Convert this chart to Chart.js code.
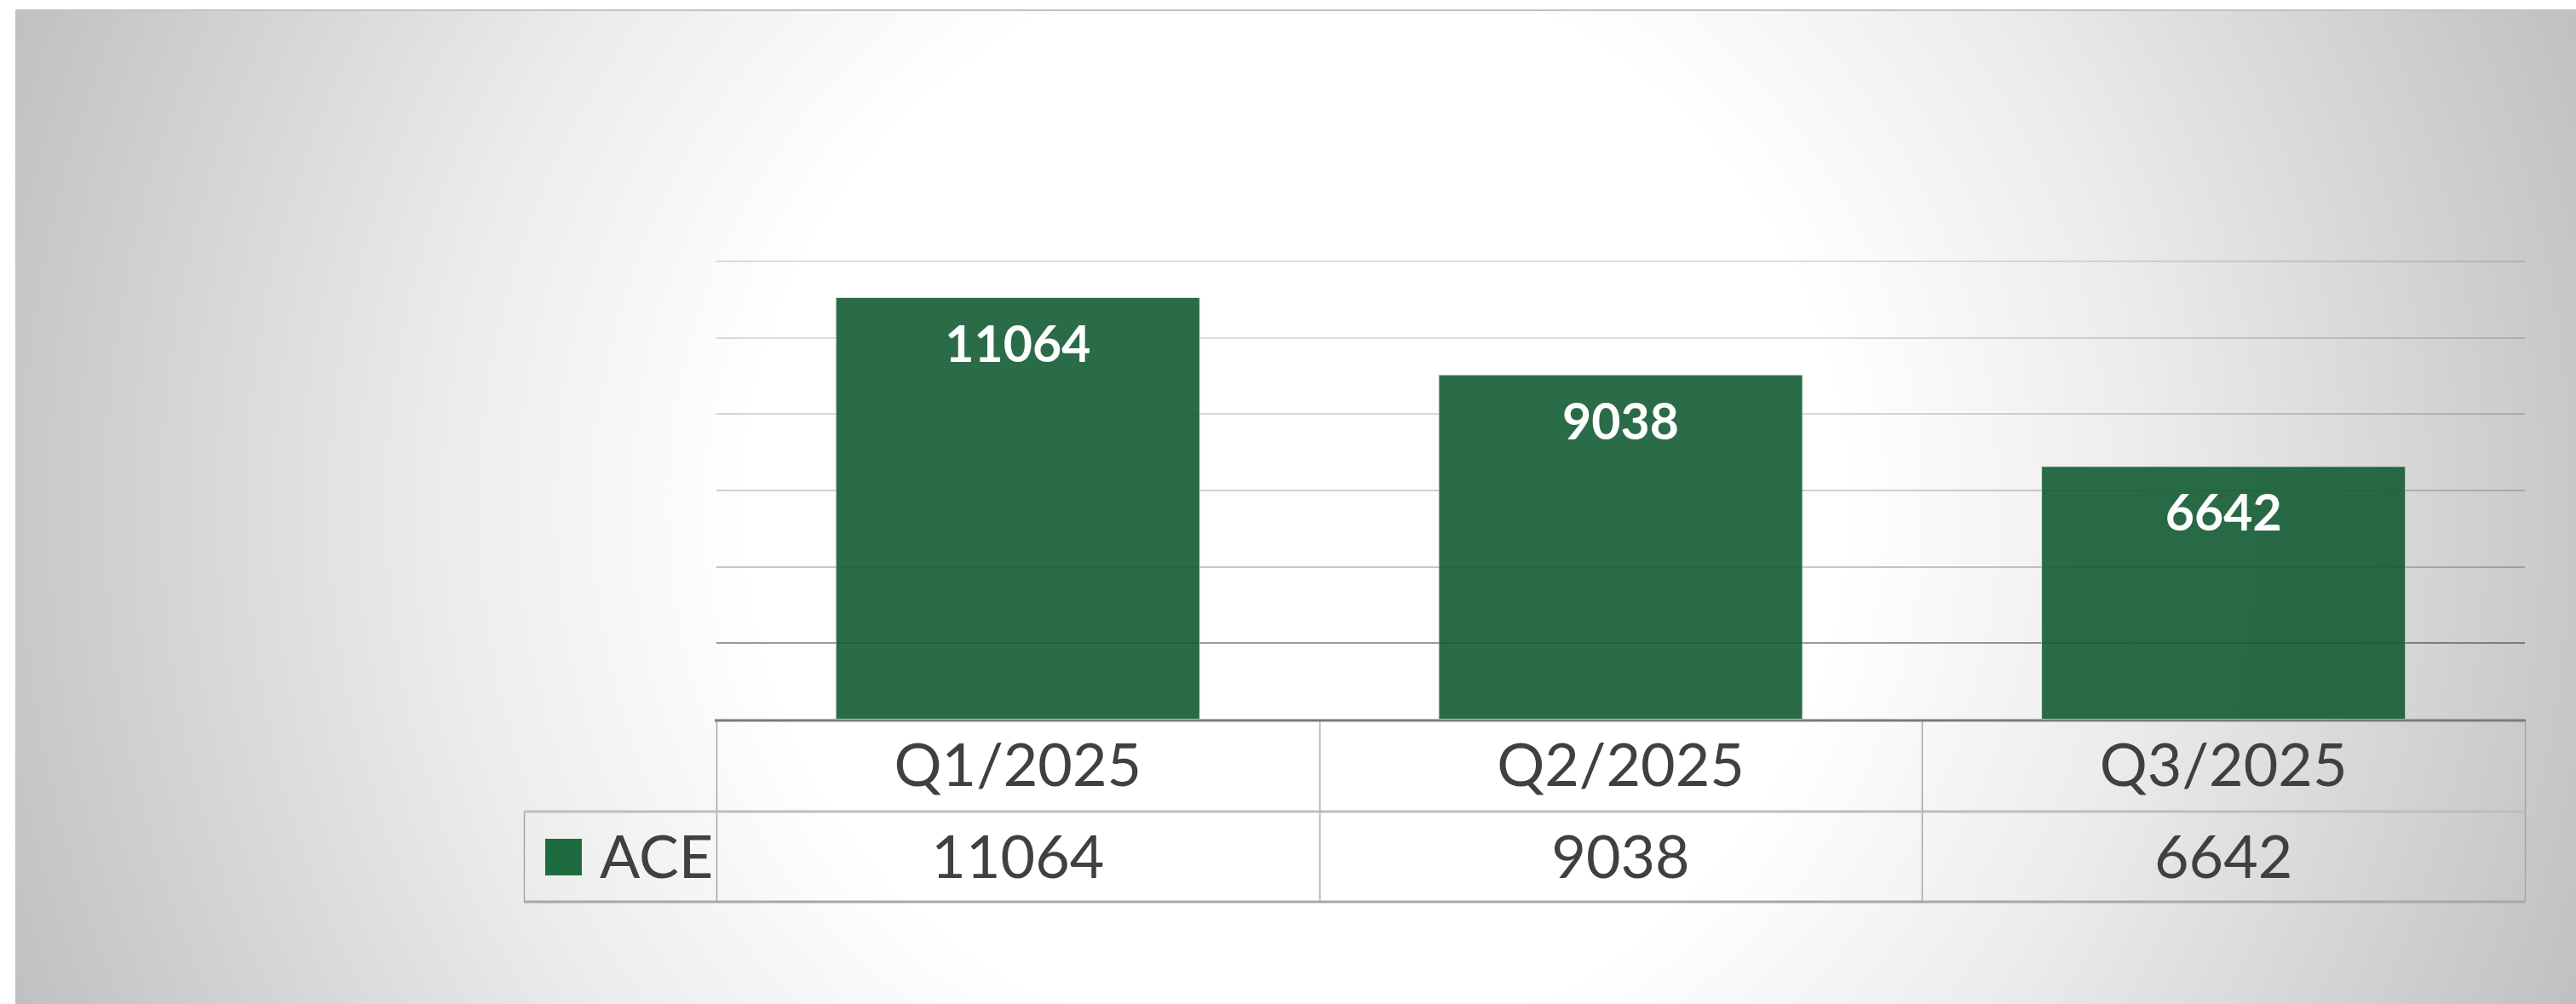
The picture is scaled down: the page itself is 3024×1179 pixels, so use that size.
<!DOCTYPE html>
<html>
<head>
<meta charset="utf-8">
<script src="https://cdn.jsdelivr.net/npm/chart.js@4.4.1/dist/chart.umd.min.js"></script>
<style>
  html, body { margin: 0; padding: 0; background: #ffffff; }
  canvas { display: block; }
</style>
</head>
<body>
<canvas id="c" width="3024" height="1179" style="width:3024px;height:1179px"></canvas>
<script>
// ---- data ----
const categories = ['Q1/2025', 'Q2/2025', 'Q3/2025'];
const seriesName = 'ACE';
const aceValues = [11064, 9038, 6642];
const yMin = 0;
const yMax = 12000;
const yStep = 2000;

const barColor = 'rgba(20,92,52,0.9)';
const barEdge = 'rgba(215,215,215,0.9)';
const legendColor = '#1f6b40';
const textColor = '#404040';

// gridline shade per tick value (lower lines are darker in the original)
function gridShade(v) {
  if (v <= 0) return 'rgba(0,0,0,0)';
  if (v <= 2000) return 'rgba(0,0,0,0.40)';
  if (v <= 4000) return 'rgba(0,0,0,0.22)';
  if (v <= 6000) return 'rgba(0,0,0,0.19)';
  if (v <= 8000) return 'rgba(0,0,0,0.16)';
  if (v <= 10000) return 'rgba(0,0,0,0.14)';
  return 'rgba(0,0,0,0.12)';
}

const bgPlugin = {
  id: 'bg',
  beforeDraw(chart) {
    const ctx = chart.ctx;
    const W = chart.width, H = chart.height;
    ctx.save();
    ctx.fillStyle = '#ffffff';
    ctx.fillRect(0, 0, W, H);
    const x0 = 18, y0 = 11;
    const cx = (x0 + W) / 2, cy = (y0 + H) / 2;
    const r = Math.hypot(W - cx, H - cy);
    const g = ctx.createRadialGradient(cx, cy, 0, cx, cy, r);
    g.addColorStop(0, '#ffffff');
    g.addColorStop(0.40, '#ffffff');
    g.addColorStop(0.62, '#ececec');
    g.addColorStop(1, '#c0c0c0');
    ctx.fillStyle = g;
    ctx.fillRect(x0, y0, W - x0, H - y0);
    ctx.fillStyle = '#c2c2c2';
    ctx.fillRect(x0, y0, W - x0, 2);
    ctx.restore();
  }
};

const labelPlugin = {
  id: 'barLabels',
  afterDatasetsDraw(chart) {
    const ctx = chart.ctx;
    const meta = chart.getDatasetMeta(0);
    ctx.save();
    ctx.fillStyle = '#ffffff';
    ctx.font = 'bold 59px Lato';
    ctx.textAlign = 'center';
    ctx.textBaseline = 'alphabetic';
    meta.data.forEach((bar, i) => {
      ctx.fillText(String(aceValues[i]), bar.x, bar.y + 76);
    });
    ctx.restore();
  }
};

const tablePlugin = {
  id: 'dataTable',
  afterDraw(chart) {
    const ctx = chart.ctx;
    const xs = chart.scales.x;
    const ys = chart.scales.y;
    const area = chart.chartArea;
    const n = categories.length;
    const catW = (area.right - area.left) / n;
    const base = ys.getPixelForValue(0);
    const row1 = base + 108;
    const row2 = row1 + 106;
    const legLeft = 615;
    ctx.save();
    // vertical lines
    ctx.strokeStyle = '#a6a6a6';
    ctx.lineWidth = 1.5;
    for (let i = 0; i <= n; i++) {
      const x = Math.round(area.left + i * catW) + 0.5;
      ctx.beginPath();
      ctx.moveTo(x, base);
      ctx.lineTo(x, row2);
      ctx.stroke();
    }
    ctx.beginPath();
    ctx.moveTo(legLeft + 0.5, row1);
    ctx.lineTo(legLeft + 0.5, row2);
    ctx.stroke();
    // row separator
    ctx.strokeStyle = '#bdbdbd';
    ctx.lineWidth = 3;
    ctx.beginPath();
    ctx.moveTo(legLeft, row1);
    ctx.lineTo(area.right, row1);
    ctx.stroke();
    // bottom
    ctx.strokeStyle = '#a8a8a8';
    ctx.lineWidth = 3;
    ctx.beginPath();
    ctx.moveTo(legLeft, row2);
    ctx.lineTo(area.right + 1, row2);
    ctx.stroke();
    // baseline (category axis)
    ctx.strokeStyle = '#7a7a7a';
    ctx.lineWidth = 3;
    ctx.beginPath();
    ctx.moveTo(area.left - 2, base + 1);
    ctx.lineTo(area.right + 1, base + 1);
    ctx.stroke();
    // texts
    ctx.fillStyle = textColor;
    ctx.font = '70px Lato';
    ctx.textAlign = 'center';
    ctx.textBaseline = 'alphabetic';
    categories.forEach((c, i) => {
      const cxp = xs.getPixelForValue(i);
      ctx.fillText(c, cxp, base + 78);
      ctx.fillText(String(aceValues[i]), cxp, row1 + 78);
    });
    // legend key
    ctx.fillStyle = legendColor;
    ctx.fillRect(640, row1 + 32, 43, 43);
    ctx.fillStyle = textColor;
    ctx.textAlign = 'left';
    ctx.fillText(seriesName, 704, row1 + 78);
    ctx.restore();
  }
};

new Chart(document.getElementById('c'), {
  type: 'bar',
  data: {
    labels: categories,
    datasets: [{
      label: seriesName,
      data: aceValues,
      backgroundColor: barColor,
      borderColor: barEdge,
      borderWidth: 1,
      barPercentage: 0.605,
      categoryPercentage: 1.0
    }]
  },
  options: {
    responsive: false,
    maintainAspectRatio: false,
    devicePixelRatio: 1,
    animation: false,
    layout: { padding: { left: 841, right: 60, top: 307, bottom: 334 } },
    plugins: {
      legend: { display: false },
      tooltip: { enabled: false },
      title: { display: false }
    },
    scales: {
      x: {
        type: 'category',
        offset: true,
        grid: { display: false, drawTicks: false },
        border: { display: false },
        ticks: { display: false },
        afterFit(axis) { axis.height = 0; }
      },
      y: {
        min: yMin,
        max: yMax,
        ticks: { display: false, stepSize: yStep },
        grid: {
          color: (c) => gridShade(c.tick ? c.tick.value : 0),
          lineWidth: 2,
          drawTicks: false
        },
        border: { display: false },
        afterFit(axis) { axis.width = 0; }
      }
    }
  },
  plugins: [bgPlugin, labelPlugin, tablePlugin]
});
</script>
</body>
</html>
